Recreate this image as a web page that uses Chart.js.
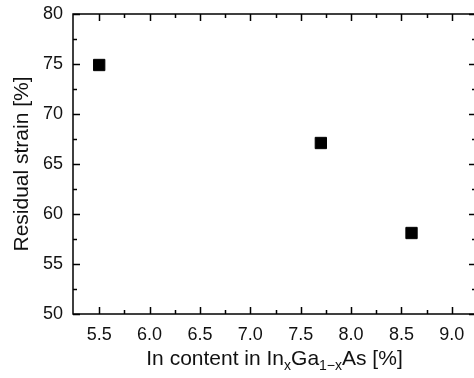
<!DOCTYPE html>
<html>
<head>
<meta charset="utf-8">
<script src="https://cdn.jsdelivr.net/npm/chart.js@4.4.1/dist/chart.umd.min.js"></script>
<style>
	html, body { margin: 0; padding: 0; background: #fff; overflow: hidden; }
	#wrap { width: 474px; height: 378px; overflow: hidden; position: relative; }
	#chart { display: block; }
</style>
</head>
<body>
<div id="wrap"><canvas id="chart" width="480" height="378"></canvas></div>
<script>
// data
var inContent = [5.5, 7.7, 8.6];
var residualStrain = [74.9, 67.1, 58.1];

var xTicks = [5.5, 6.0, 6.5, 7.0, 7.5, 8.0, 8.5, 9.0];
var xTickLabels = ["5.5", "6.0", "6.5", "7.0", "7.5", "8.0", "8.5", "9.0"];
var yTicks = [50, 55, 60, 65, 70, 75, 80];
var yTickLabels = ["50", "55", "60", "65", "70", "75", "80"];

var FONT = "'Liberation Sans', Arial, sans-serif";

// frame + inward ticks on all four sides, minor ticks half way
var frameTicks = {
	id: "frameTicks",
	afterDraw: function(chart) {
		var ctx = chart.ctx;
		var a = chart.chartArea;
		var xs = chart.scales.x, ys = chart.scales.y;
		ctx.save();
		ctx.strokeStyle = "#000";
		ctx.lineWidth = 1.5;
		ctx.strokeRect(a.left, a.top, a.right - a.left, a.bottom - a.top);
		ctx.beginPath();
		var i, p, v, len;
		var xAll = [], yAll = [];
		for (i = 0; i < xTicks.length; i++) {
			xAll.push([xTicks[i], 7]);
			if (i < xTicks.length - 1) xAll.push([(xTicks[i] + xTicks[i + 1]) / 2, 4]);
		}
		for (i = 0; i < yTicks.length; i++) {
			yAll.push([yTicks[i], 7]);
			if (i < yTicks.length - 1) yAll.push([(yTicks[i] + yTicks[i + 1]) / 2, 4]);
		}
		for (i = 0; i < xAll.length; i++) {
			v = xAll[i][0]; len = xAll[i][1];
			if (v < xs.min || v > xs.max) continue;
			p = Math.round(xs.getPixelForValue(v)) + 0.5;
			ctx.moveTo(p, a.bottom); ctx.lineTo(p, a.bottom - len);
			ctx.moveTo(p, a.top); ctx.lineTo(p, a.top + len);
		}
		for (i = 0; i < yAll.length; i++) {
			v = yAll[i][0]; len = yAll[i][1];
			p = Math.round(ys.getPixelForValue(v)) + 0.5;
			ctx.moveTo(a.left, p); ctx.lineTo(a.left + len, p);
			ctx.moveTo(a.right, p); ctx.lineTo(a.right - len, p);
		}
		ctx.stroke();

		// x title with subscripts
		var cx = (a.left + a.right) / 2;
		var base = 365;
		var big = "21px " + FONT, small = "14px " + FONT;
		var parts = [
			["In content in In", big, 0],
			["x", small, 5],
			["Ga", big, 0],
			["1\u2212x", small, 5],
			["As [%]", big, 0]
		];
		var total = 0;
		for (i = 0; i < parts.length; i++) {
			ctx.font = parts[i][1];
			total += ctx.measureText(parts[i][0]).width;
		}
		var x = cx - total / 2;
		ctx.fillStyle = "#111";
		ctx.textBaseline = "alphabetic";
		ctx.textAlign = "left";
		for (i = 0; i < parts.length; i++) {
			ctx.font = parts[i][1];
			ctx.fillText(parts[i][0], x, base + parts[i][2]);
			x += ctx.measureText(parts[i][0]).width;
		}
		ctx.restore();
	}
};

new Chart(document.getElementById("chart"), {
	type: "scatter",
	data: {
		datasets: [{
			label: "Residual strain",
			data: inContent.map(function(x, i) { return { x: x, y: residualStrain[i] }; }),
			pointStyle: "rect",
			pointRadius: 8,
			pointBackgroundColor: "#000",
			pointBorderColor: "#000",
			pointBorderWidth: 1
		}]
	},
	options: {
		responsive: false,
		animation: false,
		layout: { autoPadding: false, padding: { top: 14, right: 4, left: 0, bottom: 0 } },
		plugins: {
			legend: { display: false },
			tooltip: { enabled: false }
		},
		scales: {
			x: {
				type: "linear",
				min: 5.24,
				max: 9.24,
				grid: { display: false, drawTicks: false },
				border: { display: false },
				afterBuildTicks: function(s) { s.ticks = xTicks.map(function(v) { return { value: v }; }); },
				afterFit: function(s) { s.height = 64; s.paddingLeft = 0; s.paddingRight = 0; },
				ticks: {
					padding: 10,
					color: "#111",
					font: { family: FONT, size: 18 },
					maxRotation: 0,
					autoSkip: false,
					callback: function(v, i) { return xTickLabels[i]; }
				}
			},
			y: {
				min: 50,
				max: 80,
				grid: { display: false, drawTicks: false },
				border: { display: false },
				afterBuildTicks: function(s) { s.ticks = yTicks.map(function(v) { return { value: v }; }); },
				afterFit: function(s) { s.width = 73; s.paddingTop = 0; s.paddingBottom = 0; },
				ticks: {
					padding: 10,
					color: "#111",
					font: { family: FONT, size: 18 },
					callback: function(v, i) { return yTickLabels[i]; }
				},
				title: {
					display: true,
					text: "Residual strain [%]",
					color: "#111",
					font: { family: FONT, size: 21 },
					padding: { top: 10, bottom: 0 }
				}
			}
		}
	},
	plugins: [frameTicks]
});
</script>
</body>
</html>
